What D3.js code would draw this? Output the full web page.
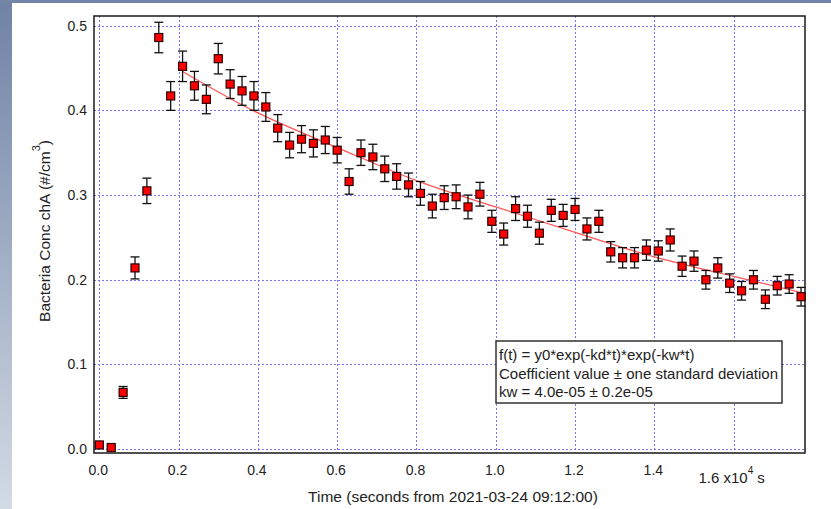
<!DOCTYPE html>
<html>
<head>
<meta charset="utf-8">
<script src="https://cdn.jsdelivr.net/npm/d3@7"></script>
<style>
  html, body { margin: 0; padding: 0; background: #fff; }
  svg { display: block; font-family: "Liberation Sans", Arial, sans-serif; }
</style>
</head>
<body>
<script>
'use strict';

// sample times (s from 2021-03-24 09:12:00)
const times = [
  0, 300, 600, 900, 1200, 1500, 1800, 2100, 2400, 2700,
  3000, 3300, 3600, 3900, 4200, 4500, 4800, 5100, 5400, 5700,
  6000, 6300, 6600, 6900, 7200, 7500, 7800, 8100, 8400, 8700,
  9000, 9300, 9600, 9900, 10200, 10500, 10800, 11100, 11400, 11700,
  12000, 12300, 12600, 12900, 13200, 13500, 13800, 14100, 14400, 14700,
  15000, 15300, 15600, 15900, 16200, 16500, 16800, 17100, 17400, 17700
];
const conc = [
  0.005, 0.002, 0.067, 0.214, 0.305, 0.486, 0.417, 0.452, 0.429, 0.413,
  0.461, 0.431, 0.423, 0.417, 0.404, 0.379, 0.359, 0.366, 0.361, 0.365,
  0.353, 0.316, 0.350, 0.345, 0.331, 0.322, 0.312, 0.302, 0.287, 0.297,
  0.298, 0.286, 0.301, 0.269, 0.254, 0.284, 0.275, 0.255, 0.282, 0.276,
  0.283, 0.260, 0.269, 0.233, 0.226, 0.226, 0.235, 0.234, 0.247, 0.216,
  0.222, 0.200, 0.214, 0.196, 0.187, 0.200, 0.177, 0.193, 0.195, 0.180
];
const concErr = [
  0.002, 0.002, 0.007, 0.013, 0.015, 0.018, 0.017, 0.018, 0.017, 0.017,
  0.018, 0.017, 0.017, 0.017, 0.017, 0.016, 0.015, 0.016, 0.016, 0.016,
  0.015, 0.015, 0.015, 0.015, 0.015, 0.015, 0.014, 0.014, 0.014, 0.014,
  0.014, 0.014, 0.014, 0.013, 0.013, 0.014, 0.013, 0.013, 0.013, 0.013,
  0.013, 0.013, 0.013, 0.012, 0.012, 0.012, 0.012, 0.012, 0.013, 0.012,
  0.012, 0.011, 0.012, 0.011, 0.011, 0.011, 0.011, 0.011, 0.011, 0.011
];

// fitted curve
const fitTimes = [2100, 4000, 6000, 8000, 10000, 12000, 14000, 16000, 17800];
const fitConc = [0.446, 0.397, 0.356, 0.317, 0.286, 0.256, 0.227, 0.204, 0.184];

const xTicks = [0, 2000, 4000, 6000, 8000, 10000, 12000, 14000, 16000];
const xTickLabels = ['0.0', '0.2', '0.4', '0.6', '0.8', '1.0', '1.2', '1.4', '1.6'];
const yTicks = [0, 0.1, 0.2, 0.3, 0.4, 0.5];

const legendLines = [
  'f(t) = y0*exp(-kd*t)*exp(-kw*t)',
  'Coefficient value \u00b1 one standard deviation',
  'kw = 4.0e-05 \u00b1 0.2e-05'
];

const W = 831, H = 509;
const frame = { left: 94, top: 16, right: 805, bottom: 453 };

const svg = d3.select('body').append('svg')
  .attr('width', W).attr('height', H);

// window-ish background
const defs = svg.append('defs');
const grad = defs.append('linearGradient')
  .attr('id', 'side').attr('x1', 0).attr('y1', 0).attr('x2', 0).attr('y2', 1);
grad.append('stop').attr('offset', '0%').attr('stop-color', '#6f83a5');
grad.append('stop').attr('offset', '100%').attr('stop-color', '#d3dae4');

svg.append('rect').attr('width', W).attr('height', H).attr('fill', 'url(#side)');
svg.append('rect').attr('x', 0).attr('y', 0).attr('width', W).attr('height', 3)
  .attr('fill', '#7185a7');
svg.append('rect').attr('x', 12).attr('y', 3).attr('width', W - 12).attr('height', H - 3)
  .attr('fill', '#fff');

const x = d3.scaleLinear().domain([-134, 17800]).range([frame.left, frame.right]);
const y = d3.scaleLinear().domain([-0.0045, 0.5114]).range([frame.bottom, frame.top]);

// grid
const grid = svg.append('g')
  .attr('stroke', '#7474ff').attr('stroke-width', 1).attr('stroke-dasharray', '2,2');
grid.selectAll('.vx').data(xTicks).enter().append('line')
  .attr('x1', (d) => Math.round(x(d)) + 0.5).attr('x2', (d) => Math.round(x(d)) + 0.5)
  .attr('y1', frame.top).attr('y2', frame.bottom);
grid.selectAll('.hy').data(yTicks).enter().append('line')
  .attr('y1', (d) => Math.round(y(d)) + 0.5).attr('y2', (d) => Math.round(y(d)) + 0.5)
  .attr('x1', frame.left).attr('x2', frame.right);

// frame
svg.append('rect')
  .attr('x', frame.left).attr('y', frame.top)
  .attr('width', frame.right - frame.left).attr('height', frame.bottom - frame.top)
  .attr('fill', 'none').attr('stroke', '#1a1a1a').attr('stroke-width', 1.5);

// y tick labels
svg.append('g').selectAll('text').data(yTicks).enter().append('text')
  .attr('x', 87).attr('y', (d) => y(d) + 5)
  .attr('text-anchor', 'end').attr('font-size', 14).attr('fill', '#222')
  .text((d) => d.toFixed(1));

// x tick labels (last one carries the multiplier)
const xl = svg.append('g').attr('font-size', 14).attr('fill', '#222');
xTicks.forEach((t, i) => {
  if (i < xTicks.length - 1) {
    xl.append('text').attr('x', x(t) - 1).attr('y', 475)
      .attr('text-anchor', 'middle').text(xTickLabels[i]);
  } else {
    const tx = xl.append('text').attr('x', x(t) - 2).attr('y', 483)
      .attr('text-anchor', 'middle').attr('font-size', 15);
    tx.append('tspan').text(xTickLabels[i] + ' x10');
    tx.append('tspan').attr('dy', -9).attr('font-size', 10).text('4');
    tx.append('tspan').attr('dy', 9).text(' s');
  }
});

// axis titles
svg.append('text')
  .attr('x', 453).attr('y', 502)
  .attr('text-anchor', 'middle').attr('font-size', 15.5).attr('fill', '#222')
  .text('Time (seconds from 2021-03-24 09:12:00)');

const yt = svg.append('text')
  .attr('transform', 'translate(50,231) rotate(-90)')
  .attr('text-anchor', 'middle').attr('font-size', 15.5).attr('fill', '#222');
yt.append('tspan').text('Bacteria Conc chA (#/cm');
yt.append('tspan').attr('dy', -10).attr('font-size', 11).text('3');
yt.append('tspan').attr('dy', 10).text(')');

// fit line
const fitData = fitTimes.map((t, i) => [t, fitConc[i]]);
svg.append('path')
  .datum(fitData)
  .attr('fill', 'none').attr('stroke', '#ff5555').attr('stroke-width', 1.2)
  .attr('d', d3.line().x((d) => x(d[0])).y((d) => y(d[1])).curve(d3.curveNatural));

// error bars + markers
const pts = times.map((t, i) => ({ t, v: conc[i], e: concErr[i] }));
const eb = svg.append('g').attr('stroke', '#111').attr('stroke-width', 1.3);
const cap = 4.5;
pts.forEach((d) => {
  const cx = x(d.t), y0 = y(d.v - d.e), y1 = y(d.v + d.e);
  eb.append('line').attr('x1', cx).attr('x2', cx).attr('y1', y0).attr('y2', y1);
  eb.append('line').attr('x1', cx - cap).attr('x2', cx + cap).attr('y1', y0).attr('y2', y0);
  eb.append('line').attr('x1', cx - cap).attr('x2', cx + cap).attr('y1', y1).attr('y2', y1);
});

svg.append('g').selectAll('rect').data(pts).enter().append('rect')
  .attr('x', (d) => x(d.t) - 4).attr('y', (d) => y(d.v) - 4)
  .attr('width', 8).attr('height', 8)
  .attr('fill', '#f00').attr('stroke', '#2a0000').attr('stroke-width', 1.2);

// legend box
const lg = svg.append('g');
lg.append('rect')
  .attr('x', 496).attr('y', 341).attr('width', 286).attr('height', 62)
  .attr('fill', '#fff').attr('stroke', '#333').attr('stroke-width', 1.5);
lg.selectAll('text').data(legendLines).enter().append('text')
  .attr('x', 499).attr('y', (d, i) => 360 + i * 18.5)
  .attr('font-size', 15).attr('fill', '#222')
  .text((d) => d);
</script>
</body>
</html>
